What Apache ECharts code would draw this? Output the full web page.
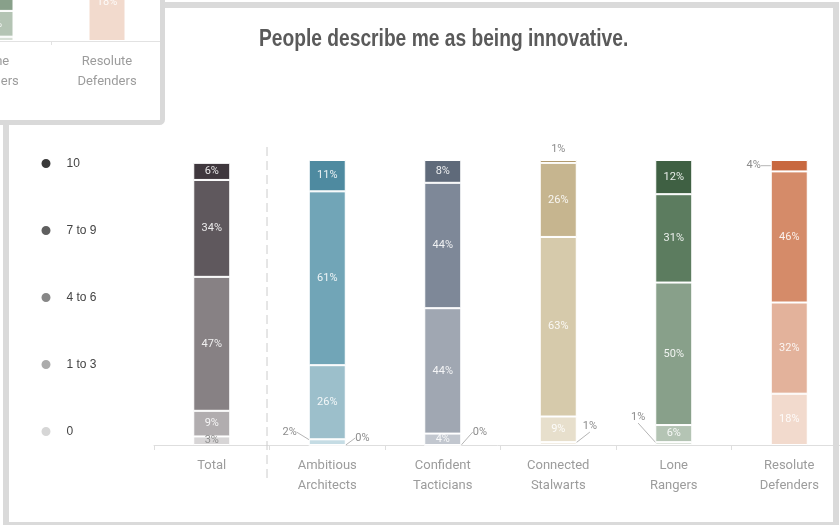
<!DOCTYPE html>
<html>
<head>
<meta charset="utf-8">
<script src="https://cdn.jsdelivr.net/npm/echarts@6/dist/echarts.min.js"></script>
<style>
  html, body { margin: 0; padding: 0; background: #fff; }
  #chart { width: 840px; height: 525px; }
</style>
</head>
<body>
<div id="chart"></div>
<script>
// Segments of each bar, stacked bottom → top
const categories = ['Total', 'Ambitious\nArchitects', 'Confident\nTacticians', 'Connected\nStalwarts', 'Lone\nRangers', 'Resolute\nDefenders'];
const levels = ['0', '1 to 3', '4 to 6', '7 to 9', '10'];
const share0     = [3, 0, 0, 1, 1, 18];
const share1to3  = [9, 2, 4, 9, 6, 32];
const share4to6  = [47, 26, 44, 63, 50, 46];
const share7to9  = [34, 61, 44, 26, 31, 4];
const share10    = [6, 11, 8, 1, 12, 1];
const shares = [share0, share1to3, share4to6, share7to9, share10];
const titleText = 'People describe me as being innovative.';

// Colour ramps per segment (light → dark), one per group
const ramps = [
  ['#d7d5d6', '#b1adaf', '#878184', '#5f585d', '#3f373d'],
  ['#e0edf1', '#c5dce4', '#9cbfcb', '#71a5b7', '#4e8aa0'],
  ['#dfe2e6', '#c2c7cf', '#a0a7b2', '#7e8898', '#5f6a7a'],
  ['#f1ece1', '#e7dfcc', '#d6caab', '#c6b58f', '#a58a55'],
  ['#d7dfd6', '#b4c4b4', '#88a08a', '#5c7c5f', '#3f6043'],
  ['#f2dacd', '#e3b29b', '#d58b69', '#c8683f', '#b5532b']
];
const legendColors = ['#d6d6d6', '#ababab', '#878787', '#5f5f5f', '#3a3a3a'];

// Small segments whose labels sit outside the bar (level → category → placement)
const outside = {
  '0':      { 1: { position: 'right', dx: 4, dy: -7 },
              2: { position: 'right', dx: 6, dy: -13 },
              3: { position: 'right', dx: 1, dy: -17 },
              4: { position: 'left', dx: -5, dy: -26 } },
  '1 to 3': { 1: { position: 'left', dx: -7, dy: -10 } },
  '7 to 9': { 5: { position: 'left', dx: -5, dy: 0 } },
  '10':     { 3: { position: 'top', line: false },
              5: { position: 'top', line: false } }
};
const insideGrey = { '0': { 0: '#8e8e8e' } };

const labelFont = 'Roboto, "Noto Sans", sans-serif';
const narrowFont = '"Liberation Sans", Arial, sans-serif';

function buildSeries(catStart, axisIndex, z) {
  return levels.map((lvl, li) => {
    const vals = shares[li].slice(catStart);
    return {
      name: lvl,
      type: 'bar',
      stack: 'share' + axisIndex,
      xAxisIndex: axisIndex,
      yAxisIndex: axisIndex,
      barWidth: 37,
      z: z,
      itemStyle: { color: legendColors[li], borderColor: '#ffffff', borderWidth: 1 },
      label: {
        show: true,
        position: 'inside',
        formatter: '{c}%',
        color: 'rgba(255,255,255,0.88)',
        fontSize: 11,
        fontFamily: labelFont
      },
      labelLayout: function (p) {
        const o = (outside[lvl] || {})[p.dataIndex + catStart];
        return o ? { dx: o.dx || 0, dy: o.dy || 0 } : {};
      },
      data: vals.map((v, k) => {
        const ci = k + catStart;
        const item = { value: v, itemStyle: { color: ramps[ci][li] } };
        const o = (outside[lvl] || {})[ci];
        if (o) {
          item.label = { position: o.position, color: '#8c8c8c', distance: 5 };
          item.labelLine = { show: o.line !== false, lineStyle: { color: '#b5b5b5', width: 1 } };
        }
        const g = (insideGrey[lvl] || {})[ci];
        if (g) item.label = { color: g };
        return item;
      })
    };
  });
}

const chart = echarts.init(document.getElementById('chart'), null, { renderer: 'canvas' });

const axisLabelStyle = {
  color: '#9c9c9c',
  fontSize: 13,
  lineHeight: 20,
  fontFamily: labelFont,
  margin: 11,
  interval: 0
};

chart.setOption({
  animation: false,
  backgroundColor: '#ffffff',
  legend: {
    orient: 'vertical',
    left: 34.5,
    top: 152,
    itemWidth: 11,
    itemHeight: 11,
    itemGap: 54,
    icon: 'circle',
    selectedMode: false,
    textStyle: {
      color: '#444',
      fontSize: 12,
      fontFamily: narrowFont,
      padding: [0, 0, 0, 10]
    },
    data: levels.slice().reverse().map(n => ({
      name: n,
      itemStyle: { color: legendColors[levels.indexOf(n)] }
    }))
  },
  grid: [
    { left: 154, top: 160, width: 693, height: 285, outerBoundsMode: 'none', containLabel: false },
    { left: -61, top: -389, width: 224, height: 430, outerBoundsMode: 'none', containLabel: false }
  ],
  xAxis: [
    {
      type: 'category', gridIndex: 0, data: categories,
      axisLine: { lineStyle: { color: '#dedede' } },
      axisTick: { show: true, length: 5, lineStyle: { color: '#dedede' } },
      axisLabel: axisLabelStyle
    },
    {
      type: 'category', gridIndex: 1, data: categories.slice(4), z: 45,
      axisLine: { lineStyle: { color: '#e2e2e2' } },
      axisTick: { show: true, length: 4, lineStyle: { color: '#e2e2e2' } },
      axisLabel: axisLabelStyle
    }
  ],
  yAxis: [
    { type: 'value', gridIndex: 0, min: 0, max: 100, show: false },
    { type: 'value', gridIndex: 1, min: 0, max: 100, show: false }
  ],
  graphic: [
    // heading, set in a condensed bold face
    { type: 'text', z: 30, silent: true,
      x: 259, y: 28, scaleX: 0.835, scaleY: 1,
      style: { text: titleText, fill: '#5a5a5a',
               font: 'bold 23px "Liberation Sans", Arial, sans-serif',
               textVerticalAlign: 'top' } },
    // outer frame
    { type: 'rect', z: 30, silent: true,
      shape: { x: 6, y: 5, width: 830, height: 520 },
      style: { fill: 'none', stroke: '#dadada', lineWidth: 6 } },
    // divider between overall and segment bars
    { type: 'line', z: 30, silent: true,
      shape: { x1: 267, y1: 147, x2: 267, y2: 483 },
      style: { stroke: '#cccccc', lineWidth: 1, lineDash: [9, 5] } },
    // corner panel background and frame
    { type: 'rect', z: 40, silent: true,
      shape: { x: -10, y: -10, width: 172.5, height: 132.5 },
      style: { fill: '#ffffff' } },
    { type: 'rect', z: 50, silent: true,
      shape: { x: -10, y: -10, width: 172.5, height: 132.5, r: 3 },
      style: { fill: 'none', stroke: '#d9d9d9', lineWidth: 5 } }
  ],
  series: buildSeries(0, 0, 2).concat(buildSeries(4, 1, 45))
});
</script>
</body>
</html>
